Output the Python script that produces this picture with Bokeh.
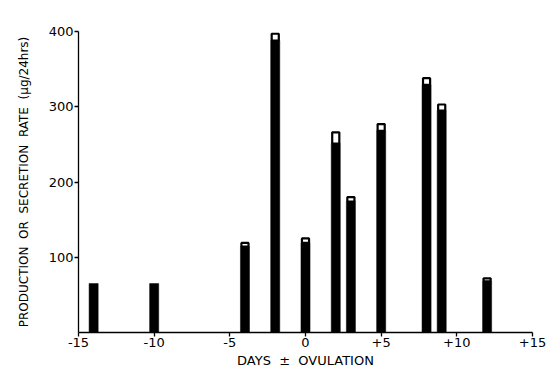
from bokeh.plotting import figure
from bokeh.models import Range1d, FixedTicker, ColumnDataSource
from bokeh.embed import file_html
from bokeh.resources import INLINE

# Data
days = [-14, -10, -4, -2, 0, 2, 3, 5, 8, 9, 12]
production_rate = [65, 65, 114, 388, 119, 251, 174, 268, 329, 295, 68]
secretion_rate = [65, 65, 119, 397, 125, 266, 180, 277, 338, 303, 72]

x_ticks = [-15, -10, -5, 0, 5, 10, 15]
x_tick_labels = ["-15", "-10", "-5", "0", "+5", "+10", "+15"]
y_ticks = [100, 200, 300, 400]

FONT = "DejaVu Sans"

p = figure(width=554, height=376, output_backend="svg", toolbar_location=None,
           x_range=Range1d(-15, 15), y_range=Range1d(0, 400))
p.min_border_left = 78
p.min_border_right = 22
p.min_border_top = 31
p.min_border_bottom = 44
p.outline_line_color = None
p.grid.visible = False
p.background_fill_color = "white"
p.border_fill_color = "white"

bar_w = 0.6
src = ColumnDataSource(dict(x=days, top=production_rate))
p.vbar(x="x", width=bar_w, bottom=0, top="top", source=src,
       fill_color="black", line_color="black", line_width=0.5)

cx, cb, ct = [], [], []
for d, b, t in zip(days, production_rate, secretion_rate):
    if t > b:
        cx.append(d); cb.append(b); ct.append(t)
cap_src = ColumnDataSource(dict(x=cx, bottom=cb, top=ct))
p.vbar(x="x", width=bar_w - 0.13, bottom="bottom", top="top", source=cap_src,
       fill_color="white", line_color="black", line_width=2.2)

# x axis
p.xaxis.ticker = FixedTicker(ticks=x_ticks)
p.xaxis.major_label_overrides = {t: l for t, l in zip(x_ticks, x_tick_labels)}
p.xaxis.axis_label = "DAYS\u00a0\u00a0\u00b1\u00a0\u00a0OVULATION"
p.xaxis.minor_tick_line_color = None
p.xaxis.major_tick_in = 0
p.xaxis.major_tick_out = 4
p.xaxis.major_label_standoff = 1
p.xaxis.axis_label_standoff = 3

# y axis
p.yaxis.ticker = FixedTicker(ticks=y_ticks)
p.yaxis.axis_label = "PRODUCTION\u00a0\u00a0OR\u00a0\u00a0SECRETION\u00a0\u00a0RATE\u00a0\u00a0(\u03bcg/24hrs)"
p.yaxis.minor_tick_line_color = None
p.yaxis.major_tick_in = 0
p.yaxis.major_tick_out = 4
p.yaxis.major_label_standoff = 1
p.yaxis.axis_label_standoff = 15

for ax in (p.xaxis[0], p.yaxis[0]):
    ax.axis_line_color = "black"
    ax.axis_line_width = 1.3
    ax.major_tick_line_color = "black"
    ax.major_tick_line_width = 1.3
    ax.major_label_text_font = FONT
    ax.major_label_text_font_size = "13px"
    ax.major_label_text_color = "black"
    ax.axis_label_text_font = FONT
    ax.axis_label_text_font_style = "normal"
    ax.axis_label_text_color = "black"

p.xaxis.axis_label_text_font_size = "13px"
p.yaxis.axis_label_text_font_size = "12px"

open("out.html", "w").write(file_html(p, INLINE))
